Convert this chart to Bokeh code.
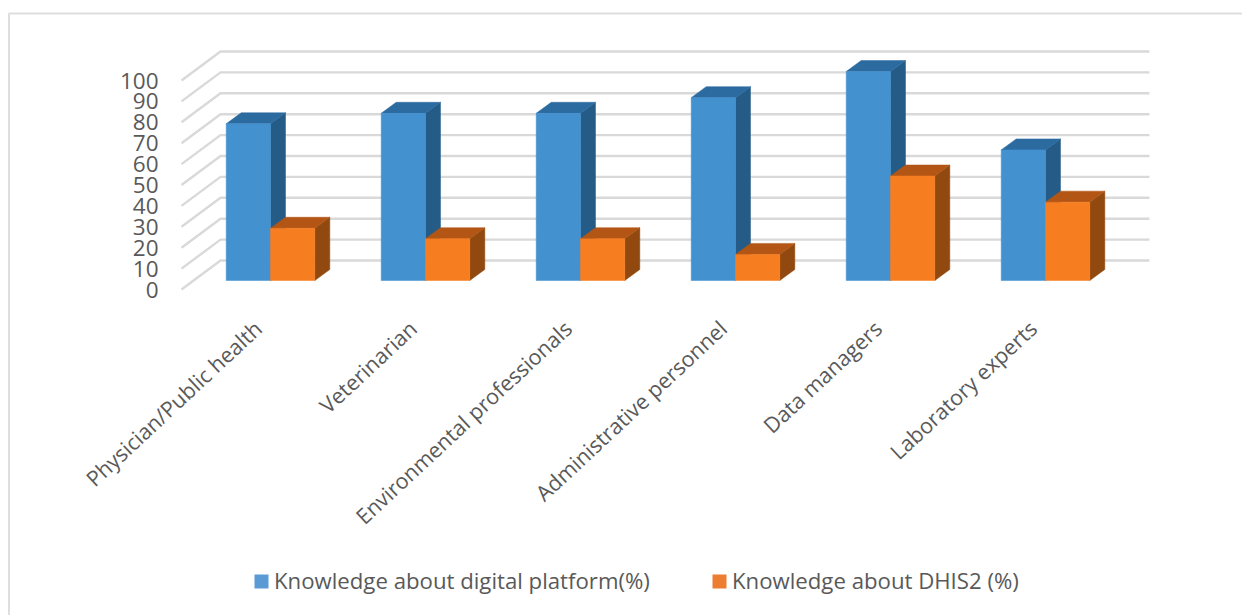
from bokeh.embed import file_html
from bokeh.models import Range1d
from bokeh.plotting import figure
from bokeh.core.properties import value
from bokeh.resources import INLINE

# Chart data
categories = ["Physician/Public health", "Veterinarian", "Environmental professionals",
              "Administrative personnel", "Data managers", "Laboratory experts"]
digital_platform = [75, 80, 80, 87.5, 100, 62.5]
dhis2 = [25, 20, 20, 12.5, 50, 37.5]
y_ticks = [0, 10, 20, 30, 40, 50, 60, 70, 80, 90, 100]
series_names = ["Knowledge about digital platform(%)", "Knowledge about DHIS2 (%)"]

# Page and projection settings, in pixels
W, H = 1242, 615
GROUP_STEP = 155.0
PX_PER_UNIT = 2.09
ORIGIN_X, ORIGIN_Y = 270.0, 280.0      # first group's centre and the bar baseline
BAR_W = 44.3
DEPTH_X, DEPTH_Y = 15.0, 11.0          # oblique offset of the bars' back faces
FLOOR_FRONT_X, FLOOR_BACK_X, WALL_RIGHT_X = 181.0, 220.0, 1149.0
FLOOR_FRONT_DROP, FLOOR_BACK_RISE = 9.0, 20.0

FONT = value("Open Sans")
GREY = "#595959"
GRID = "#D9D9D9"

# Data scales: one x unit is a category, one y unit is a percentage point
x_range = Range1d(-ORIGIN_X / GROUP_STEP, (W - ORIGIN_X) / GROUP_STEP)
y_range = Range1d((ORIGIN_Y - H) / PX_PER_UNIT, ORIGIN_Y / PX_PER_UNIT)
dx = 1 / GROUP_STEP     # x units per pixel
dy = 1 / PX_PER_UNIT    # y units per pixel


def X(px):
    return (px - ORIGIN_X) * dx


def Y(px):
    return (ORIGIN_Y - px) * dy


p = figure(width=W, height=H, x_range=x_range, y_range=y_range,
           output_backend="svg", toolbar_location=None, min_border=0,
           outline_line_color=None, background_fill_color="white",
           border_fill_color="white")
p.axis.visible = False
p.grid.visible = False

# Frame around the chart area
p.line([X(8.5), X(8.5), X(W)], [Y(H), Y(13), Y(13)], line_color="#DEDEDE", line_width=2)

# Back wall and floor gridlines
grid_xs, grid_ys = [], []
for t in y_ticks:
    grid_xs.append([X(FLOOR_FRONT_X), X(FLOOR_BACK_X), X(WALL_RIGHT_X)])
    grid_ys.append([t - FLOOR_FRONT_DROP * dy, t + FLOOR_BACK_RISE * dy, t + FLOOR_BACK_RISE * dy])
p.multi_line(grid_xs, grid_ys, line_color=GRID, line_width=2.4)


def bar_3d(left, val, front, top, side):
    """Draw one oblique box: side and top faces, then the front face."""
    w = BAR_W * dx
    ox, oy = DEPTH_X * dx, DEPTH_Y * dy
    p.patch([left + w, left + w + ox, left + w + ox, left + w],
            [0, oy, val + oy, val], fill_color=side, line_color=side, line_width=0.5)
    p.patch([left, left + ox, left + w + ox, left + w],
            [val, val + oy, val + oy, val], fill_color=top, line_color=top, line_width=0.5)
    p.quad(left=left, right=left + w, bottom=0, top=val,
           fill_color=front, line_color=front, line_width=0.5)


for i, (a, b) in enumerate(zip(digital_platform, dhis2)):
    bar_3d(i - BAR_W * dx, a, "#4391CF", "#2C6BA0", "#245C87")
    bar_3d(i, b, "#F67D20", "#B25515", "#91490F")

# Value axis labels, aligned with the front ends of the floor lines
p.text(x=[X(158)] * len(y_ticks), y=y_ticks, text=[str(t) for t in y_ticks],
       text_align="right", text_baseline="middle", y_offset=FLOOR_FRONT_DROP,
       text_font=FONT, text_font_size="22.5px", text_color=GREY)

# Slanted category labels
p.text(x=list(range(len(categories))), y=[Y(324)] * len(categories), text=categories,
       angle=43, angle_units="deg", x_offset=-12.5, text_align="right", text_baseline="middle",
       text_font=FONT, text_font_size="21.5px", text_color=GREY)

# Legend
for name, colour, sq_left in zip(series_names, ["#5B9BD5", "#ED7D31"], [254, 712]):
    p.quad(left=X(sq_left), right=X(sq_left + 14), bottom=Y(588), top=Y(574),
           fill_color=colour, line_color=None)
    p.text(x=[X(sq_left + 19.5)], y=[Y(579.5)], text=[name], text_align="left", text_baseline="middle",
           text_font=FONT, text_font_size="22.2px", text_color=GREY)

open("out.html", "w").write(file_html(p, INLINE))
